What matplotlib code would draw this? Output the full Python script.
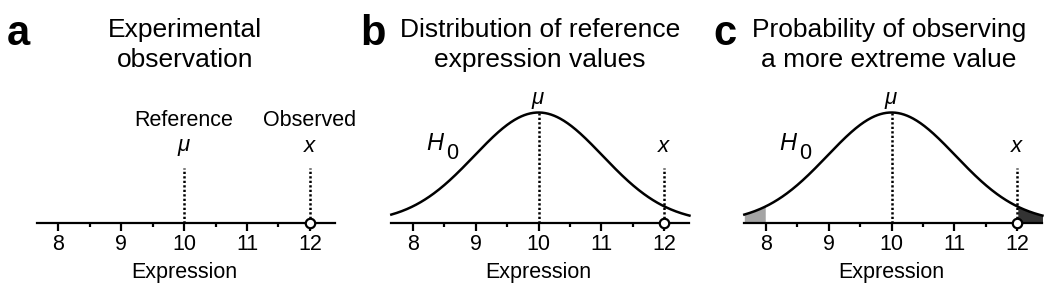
import numpy as np
import matplotlib
matplotlib.use("Agg")
import matplotlib.pyplot as plt

plt.rcParams['font.family'] = ['Liberation Sans', 'DejaVu Sans']
plt.rcParams['mathtext.fontset'] = 'custom'
plt.rcParams['mathtext.rm'] = 'Liberation Sans'
plt.rcParams['mathtext.it'] = 'Liberation Sans:italic'

# values
mu = 10
sigma = 1.02
x_obs = 12
x_lo, x_hi = 7.66, 12.4
major_ticks = [8, 9, 10, 11, 12]
minor_ticks = [8.5, 9.5, 10.5, 11.5]
panel_letters = ['a', 'b', 'c']
titles = [['Experimental', 'observation'],
          ['Distribution of reference', 'expression values'],
          ['Probability of observing', 'a more extreme value']]
title_centers = [185, 540, 889]   # px
tick8_px = [58.3, 412.7, 765.7]   # px position of tick "8"
unit_px = 62.9

W, H = 1050, 292
fig = plt.figure(figsize=(W / 100, H / 100), dpi=100)

xs = np.linspace(x_lo, x_hi, 400)
ys = np.exp(-(xs - mu) ** 2 / (2 * sigma ** 2))

axis_px = 222.5
ytop = 1.2
ax_h_px = 110 * ytop
dots = dict(ls=(0, (0.9, 0.9)), color='black', lw=1.8)

axes = []
for i in range(3):
    left = tick8_px[i] - 0.5 * unit_px
    ax = fig.add_axes([left / W, (H - axis_px) / H, 5 * unit_px / W, ax_h_px / H])
    ax.set_xlim(7.5, 12.5)
    ax.set_ylim(0, ytop)
    ax.patch.set_visible(False)
    for s in ['top', 'right', 'left']:
        ax.spines[s].set_visible(False)
    ax.spines['bottom'].set_bounds(x_lo, x_hi)
    ax.spines['bottom'].set_linewidth(1.6)
    ax.set_yticks([])
    ax.set_xticks(major_ticks)
    ax.set_xticks(minor_ticks, minor=True)
    ax.tick_params(axis='x', which='major', direction='out', length=6, width=1.6,
                   labelsize=15.5, pad=2.5)
    ax.tick_params(axis='x', which='minor', direction='out', length=3.2, width=1.6)
    ax.set_xlabel('Expression', fontsize=15.5, labelpad=5)
    axes.append(ax)

    fig.text(title_centers[i] / W, 1 - 37 / H, titles[i][0], ha='center',
             va='baseline', fontsize=19)
    fig.text(title_centers[i] / W, 1 - 67 / H, titles[i][1], ha='center',
             va='baseline', fontsize=19)
    fig.text((7 + 353 * i) / W, 1 - 45 / H, panel_letters[i], ha='left',
             va='baseline', fontsize=30, fontweight='bold')

# panel a
ax = axes[0]
ax.plot([mu, mu], [0, 0.5], **dots)
ax.plot([x_obs, x_obs], [0, 0.5], **dots)
ax.text(mu, 0.88, 'Reference', ha='center', va='baseline', fontsize=15.5)
ax.text(x_obs, 0.88, 'Observed', ha='center', va='baseline', fontsize=15.5)
ax.text(mu, 0.68, r'$\mu$', ha='center', va='center', fontsize=16)
ax.text(x_obs, 0.69, r'$x$', ha='center', va='center', fontsize=16)

# panels b and c
for j, ax in enumerate(axes[1:]):
    ax.plot(xs, ys, color='black', lw=1.8)
    ax.plot([mu, mu], [0, 1], **dots)
    ax.plot([x_obs, x_obs], [0, 0.5], **dots)
    ax.text(mu, 1.11, r'$\mu$', ha='center', va='center', fontsize=16)
    ax.text(x_obs, 0.69, r'$x$', ha='center', va='center', fontsize=16)
    ax.text(8.35, 0.72, 'H', ha='center', va='center', fontsize=17,
            fontstyle='italic')
    ax.text(8.62, 0.63, '0', ha='center', va='center', fontsize=15.5)
    if j == 1:
        m = xs <= 2 * mu - x_obs
        ax.fill_between(xs[m], 0, ys[m], color='#a4a4a4', lw=0)
        m = xs >= x_obs
        ax.fill_between(xs[m], 0, ys[m], color='#333333', lw=0)

for ax in axes:
    ax.plot([x_obs], [0], 'o', ms=6.8, mfc='white', mec='black', mew=1.6,
            clip_on=False, zorder=5)

fig.savefig('out.png', dpi=100)
